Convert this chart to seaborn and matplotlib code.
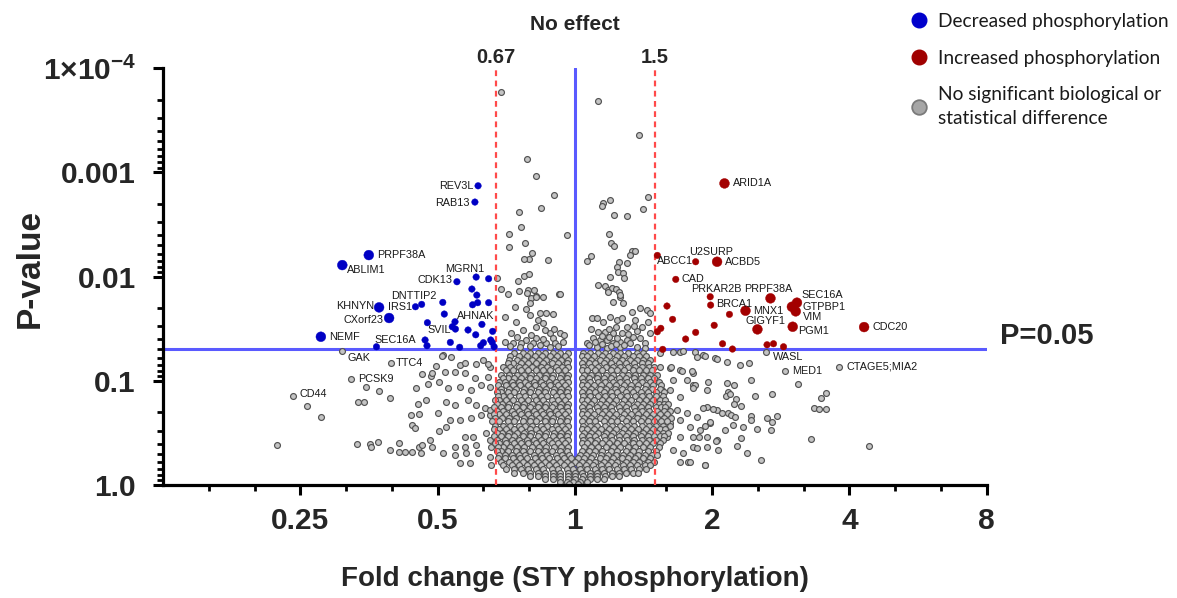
import numpy as np
import pandas as pd
import matplotlib
matplotlib.use("Agg")
import matplotlib.pyplot as plt
import seaborn as sns
from matplotlib.lines import Line2D
from matplotlib.ticker import LogLocator, NullFormatter

# ---------------- data (log2 fold change, -log10 P) ----------------
dec_names = ["REV3L", "RAB13", "PRPF38A", "ABLIM1", "MGRN1", "", "CDK13", "", "", "", "", "",
             "DNTTIP2", "", "IRS1", "KHNYN", "CXorf23", "", "", "AHNAK", "", "SVIL", "", "", "",
             "", "", "", "", "", "", "", "", "SEC16A", "", "", "NEMF"]
dec_l2 = [-0.705, -0.728, -1.501, -1.694, -0.719, -0.628, -0.859, -0.750, -0.714, -0.745, -0.708, -0.628,
          -0.962, -1.116, -1.161, -1.426, -1.353, -0.951, -1.074, -0.873, -0.893, -0.870, -0.677, -0.778,
          -0.722, -0.599, -0.613, -0.602, -0.588, -0.666, -0.686, -0.839, -0.907, -1.445, -1.091, -1.077,
          -1.850]
dec_nlp = [2.872, 2.716, 2.207, 2.111, 1.996, 1.980, 1.951, 1.881, 1.823, 1.730, 1.750, 1.750,
           1.753, 1.734, 1.711, 1.705, 1.603, 1.641, 1.558, 1.567, 1.519, 1.497, 1.542, 1.488,
           1.442, 1.475, 1.392, 1.369, 1.327, 1.366, 1.337, 1.322, 1.369, 1.327, 1.392, 1.337,
           1.423]
dec_big = ["PRPF38A", "ABLIM1", "KHNYN", "CXorf23", "NEMF"]

inc_names = ["ARID1A", "ABCC1", "U2SURP", "ACBD5", "CAD", "PRKAR2B", "BRCA1", "PRPF38A", "SEC16A",
             "GTPBP1", "VIM", "MNX1", "", "GIGYF1", "PGM1", "CDC20", "", "", "", "", "", "", "",
             "", "", "", "", "", ""]
inc_l2 = [1.090, 0.601, 0.880, 1.036, 0.735, 0.986, 0.989, 1.425, 1.618,
          1.581, 1.609, 1.243, 1.126, 1.330, 1.587, 2.107, 0.671, 0.712, 1.015, 0.880, 0.807, 0.626, 0.601,
          1.076, 1.148, 1.400, 1.447, 1.520, 0.640]
inc_nlp = [2.895, 2.204, 2.143, 2.143, 1.974, 1.807, 1.727, 1.792, 1.750,
           1.711, 1.667, 1.673, 1.638, 1.494, 1.519, 1.516, 1.718, 1.590, 1.533, 1.465, 1.401, 1.504, 1.471,
           1.356, 1.305, 1.346, 1.356, 1.327, 1.302]
inc_big = ["ARID1A", "ACBD5", "PRPF38A", "SEC16A", "GTPBP1", "VIM", "MNX1", "GIGYF1", "PGM1", "CDC20"]

grey_lab_names = ["GAK", "TTC4", "PCSK9", "CD44", "WASL", "MED1", "CTAGE5;MIA2"]
grey_lab_l2 = [-1.694, -1.339, -1.627, -2.055, 1.394, 1.528, 1.922]
grey_lab_nlp = [1.286, 1.168, 1.017, 0.857, 1.276, 1.094, 1.135]

# non-significant points between the thresholds, above the P = 0.05 line
band_l2 = [-0.535, 0.170, 0.469, -0.348, -0.285, -0.151, -0.243, -0.409, -0.389, -0.482, -0.056, -0.360,
           -0.480, -0.309, -0.333, -0.372, -0.199, -0.567, -0.411, -0.370, -0.336, -0.540, -0.487, -0.404,
           -0.338, -0.297, -0.323, -0.285, -0.115,
           0.530, 0.496, 0.377, 0.282, 0.258, 0.207, 0.195, 0.250, 0.265, 0.282, 0.416, 0.438, 0.404, 0.382,
           0.323, 0.304, 0.311, 0.350, 0.360, 0.258, 0.114, 0.088, 0.168, 0.217, 0.243, 0.270, 0.297, 0.319,
           0.328,
           -0.348, -0.280, -0.231, -0.109, -0.328, -0.358, -0.438, -0.511, -0.431, -0.328, -0.255, -0.207,
           -0.158, -0.268, -0.231, -0.280, -0.182, -0.109, -0.080, -0.158, -0.280, -0.353, -0.389, -0.450,
           -0.511, -0.304, -0.255, -0.207, -0.146, -0.085, -0.377, -0.462,
           0.243, 0.280, 0.328, 0.348, 0.122, 0.158, 0.207, 0.255, 0.304, 0.341, 0.414, 0.438, 0.474, 0.523,
           0.547, 0.535, 0.377, 0.341, 0.280, 0.219, 0.170, 0.134, 0.182, 0.231, 0.280, 0.328, 0.377, 0.426,
           0.474, 0.511, 0.547, 0.158, 0.231, 0.328, 0.450, 0.511, 0.085,
           0.10, 0.20, 0.26, 0.30, 0.36, 0.40, 0.15, 0.25, 0.31, 0.20, 0.39, 0.45, 0.12, 0.25, 0.30, 0.43,
           0.49, -0.12, -0.18, -0.33, -0.40, -0.47, -0.23, -0.32, -0.42, -0.15, -0.22]
band_nlp = [3.769, 3.688, 3.356, 3.132, 2.965, 2.783, 2.655, 2.623, 2.473, 2.409, 2.399, 2.322,
            2.284, 2.224, 2.166, 2.172, 2.156, 1.984, 1.958, 2.006, 2.028, 1.884, 1.833, 1.862,
            1.869, 1.871, 1.795, 1.814, 1.836,
            2.764, 2.652, 2.585, 2.588, 2.738, 2.709, 2.680, 2.409, 2.320, 2.297, 2.249, 2.249, 2.207, 2.131,
            2.137, 2.092, 2.047, 2.031, 1.987, 1.993, 2.198, 2.153, 1.922, 1.907, 1.871, 1.891, 1.878, 1.849,
            1.807,
            1.846, 1.807, 1.807, 1.833, 1.744, 1.686, 1.705, 1.609, 1.561, 1.631, 1.648, 1.648,
            1.641, 1.583, 1.552, 1.519, 1.456, 1.456, 1.440, 1.408, 1.408, 1.392, 1.360, 1.360,
            1.375, 1.360, 1.344, 1.360, 1.360, 1.375, 1.488, 1.456,
            1.855, 1.759, 1.823, 1.744, 1.600, 1.600, 1.567, 1.615, 1.583, 1.600, 1.663, 1.583, 1.696, 1.679,
            1.648, 1.567, 1.519, 1.456, 1.456, 1.471, 1.471, 1.408, 1.392, 1.392, 1.360, 1.375, 1.392, 1.423,
            1.408, 1.360, 1.456, 1.327, 1.312, 1.321, 1.327, 1.312, 1.360,
            1.34, 1.35, 1.33, 1.35, 1.34, 1.36, 1.37, 1.42, 1.41, 1.43, 1.45, 1.48, 1.50, 1.50, 1.52, 1.53,
            1.52, 1.33, 1.32, 1.33, 1.32, 1.33, 1.40, 1.44, 1.42, 1.50, 1.49]

# non-significant points outside the fold-change thresholds
side_l2 = [-0.961, -0.900, -0.839, -0.949, -0.876, -0.803, -0.669, -0.620, -0.730, -0.633, -0.925, -0.839,
           -0.754, -0.681, -0.620, -0.937, -0.876, -0.779, -0.718, -0.657, -0.620, -0.912, -0.839, -0.754,
           -0.681, -0.620, -0.937, -0.803, -0.742, -0.645, -0.620, -0.876, -0.803, -0.718, -0.608, -0.961,
           -0.876, -0.791, -0.706, -0.620, -0.839, -0.766, -0.608,
           0.620, 0.718, 0.766, 0.876, 0.888, 0.937, 1.022, 0.620, 0.693, 0.766, 0.864, 0.718, 0.815, 0.633,
           0.693, 0.766, 0.864, 0.961, 0.669, 0.742, 0.815, 0.888, 0.961, 1.034, 0.693, 0.766, 0.839, 0.912,
           0.985, 0.669, 0.766, 0.864, 0.961, 1.034, 0.718, 0.791, 0.864, 0.961, 0.766, 0.827, 0.949,
           -1.948, -1.850, -2.166, -1.521, -1.580, -1.538, -1.426, -1.345, -1.585, -1.493, -1.488, -1.437,
           -1.348, -1.278, -1.278, -1.236, -1.188, -1.124, -1.138, -1.110, -1.055, -1.040, -1.116, -1.046,
           -1.158, -1.144, -1.194, -1.138, -1.185, -1.166, -1.069, -1.082, -0.990, -0.998, -0.990,
           -0.971, -1.012, -1.040, -0.720, -0.636, -0.803,
           1.107, 1.162, 1.280, 1.628, 1.112, 1.098, 1.131, 1.176, 1.159, 1.209, 1.313, 1.439, 1.796, 1.833,
           1.740, 1.777, 1.830, 1.070, 1.112, 1.134, 1.168, 1.280, 1.280, 1.397, 1.434, 1.475, 1.154, 1.223,
           1.093, 1.330, 1.428, 1.209, 1.182, 1.252, 1.358, 1.721, 2.145,
           0.874, 0.863, 0.972, 0.931, 1.009, 0.986, 0.945, 0.902, 1.026, 1.042, 0.888, 0.950, 0.838,
           0.945, 1.034, 1.107, 1.204, 1.266, 0.855, 0.777, 0.701, 0.785]
side_nlp = [1.248, 1.231, 1.152, 1.088, 1.088, 1.072, 1.200, 1.136, 1.024, 1.040, 0.928, 0.944,
            0.912, 0.960, 0.944, 0.800, 0.768, 0.816, 0.768, 0.736, 0.672, 0.624, 0.624, 0.640,
            0.672, 0.720, 0.560, 0.464, 0.464, 0.496, 0.432, 0.368, 0.368, 0.384, 0.368, 0.304,
            0.288, 0.304, 0.304, 0.272, 0.208, 0.208, 0.192,
            1.264, 1.280, 1.280, 1.280, 1.231, 1.248, 1.216, 1.136, 1.120, 1.104, 1.072, 1.008, 1.008, 0.912,
            0.912, 0.848, 0.960, 0.912, 0.768, 0.720, 0.688, 0.656, 0.752, 0.720, 0.592, 0.624, 0.560, 0.528,
            0.592, 0.464, 0.464, 0.464, 0.464, 0.432, 0.336, 0.304, 0.368, 0.368, 0.224, 0.224, 0.192,
            0.758, 0.653, 0.381, 0.944, 0.800, 0.800, 0.902, 0.838, 0.393, 0.393, 0.362, 0.416,
            0.336, 0.400, 0.320, 0.320, 0.320, 0.310, 0.368, 0.384, 0.432, 0.368, 1.065, 1.046,
            0.928, 0.777, 0.672, 0.678, 0.576, 0.544, 0.969, 0.816, 0.521, 0.694, 0.992,
            1.242, 1.145, 1.078, 1.158, 1.158, 1.168,
            0.976, 0.960, 1.008, 0.966, 0.889, 0.854, 0.873, 0.822, 0.774, 0.761, 0.854, 0.870, 0.838, 0.880,
            0.736, 0.726, 0.729, 0.694, 0.694, 0.672, 0.650, 0.665, 0.624, 0.640, 0.608, 0.665, 0.576, 0.554,
            0.528, 0.534, 0.525, 0.448, 0.377, 0.310, 0.240, 0.441, 0.371,
            0.960, 0.928, 0.985, 0.736, 0.726, 0.602, 0.566, 0.464, 0.422, 0.336, 0.358, 0.192, 0.224,
            1.242, 1.210, 1.181, 1.148, 1.168, 1.097, 1.097, 1.129, 1.286]

# dense core of non-significant points, read row by row (-log10 P of the row, log2 FC of its points)
core_nlp = [1.27, 1.24, 1.20, 1.17, 1.13, 1.10, 1.06, 1.03, 0.99, 0.96, 0.92, 0.89, 0.85, 0.82,
            0.78, 0.75, 0.71, 0.68, 0.64, 0.61, 0.57, 0.54, 0.50, 0.47, 0.43, 0.40, 0.36, 0.33,
            0.29, 0.26, 0.22, 0.19, 0.15, 0.12, 0.09, 0.06, 0.03, 0.01]
core_l2 = [
    [-0.05, -0.11, -0.16, -0.22, -0.27, -0.33, -0.38, -0.44, 0.06, 0.11, 0.17, 0.22, 0.28, 0.33, 0.39, 0.45, 0.50],
    [-0.07, -0.13, -0.18, -0.24, -0.29, -0.35, -0.41, -0.47, 0.05, 0.09, 0.14, 0.20, 0.25, 0.31, 0.36, 0.42,
     0.47, 0.52],
    [-0.05, -0.10, -0.15, -0.21, -0.26, -0.31, -0.37, -0.42, -0.48, 0.07, 0.12, 0.18, 0.23, 0.29, 0.34, 0.40,
     0.45, 0.50, 0.55],
    [-0.06, -0.12, -0.17, -0.23, -0.28, -0.34, -0.39, -0.45, -0.49, 0.05, 0.10, 0.15, 0.21, 0.26, 0.32, 0.37,
     0.43, 0.49, 0.53],
    [-0.05, -0.09, -0.14, -0.20, -0.25, -0.31, -0.36, -0.41, -0.47, -0.52, 0.06, 0.12, 0.17, 0.23, 0.28, 0.33,
     0.39, 0.44, 0.49, 0.54, 0.58],
    [-0.07, -0.12, -0.18, -0.23, -0.28, -0.34, -0.39, -0.45, -0.50, 0.05, 0.09, 0.15, 0.20, 0.26, 0.31, 0.36,
     0.42, 0.47, 0.52, 0.56],
    [-0.05, -0.10, -0.16, -0.21, -0.26, -0.32, -0.37, -0.42, -0.48, -0.54, 0.07, 0.12, 0.17, 0.23, 0.28, 0.34,
     0.39, 0.44, 0.50, 0.55, 0.60],
    [-0.06, -0.11, -0.17, -0.22, -0.28, -0.33, -0.39, -0.44, -0.49, -0.52, 0.05, 0.10, 0.16, 0.21, 0.26, 0.32,
     0.37, 0.43, 0.48, 0.53, 0.58],
    [-0.05, -0.09, -0.14, -0.19, -0.25, -0.30, -0.36, -0.41, -0.46, -0.51, -0.55, 0.06, 0.11, 0.17, 0.22, 0.28,
     0.33, 0.38, 0.44, 0.49, 0.55, 0.61],
    [-0.07, -0.12, -0.18, -0.23, -0.29, -0.34, -0.40, -0.45, -0.50, -0.56, 0.05, 0.09, 0.14, 0.19, 0.25, 0.30,
     0.36, 0.41, 0.46, 0.52, 0.57, 0.63],
    [-0.05, -0.10, -0.15, -0.21, -0.26, -0.32, -0.37, -0.43, -0.48, -0.54, 0.07, 0.12, 0.18, 0.23, 0.29, 0.34,
     0.40, 0.45, 0.51, 0.56, 0.62],
    [-0.06, -0.11, -0.16, -0.22, -0.27, -0.33, -0.38, -0.44, -0.49, -0.54, -0.57, 0.05, 0.10, 0.15, 0.21, 0.26,
     0.31, 0.37, 0.42, 0.48, 0.53, 0.59, 0.65],
    [-0.05, -0.09, -0.14, -0.20, -0.25, -0.30, -0.36, -0.41, -0.47, -0.52, -0.56, 0.06, 0.11, 0.17, 0.22, 0.27,
     0.33, 0.38, 0.44, 0.49, 0.54, 0.59, 0.64],
    [-0.07, -0.12, -0.17, -0.23, -0.28, -0.34, -0.39, -0.45, -0.50, -0.55, -0.58, 0.05, 0.09, 0.14, 0.20, 0.25,
     0.30, 0.36, 0.41, 0.47, 0.52, 0.57, 0.62, 0.66],
    [-0.05, -0.10, -0.15, -0.21, -0.26, -0.31, -0.37, -0.42, -0.48, -0.53, -0.57, 0.07, 0.12, 0.18, 0.23, 0.28,
     0.34, 0.39, 0.45, 0.50, 0.55, 0.61, 0.65, 0.68],
    [-0.06, -0.11, -0.17, -0.22, -0.27, -0.33, -0.38, -0.43, -0.49, -0.54, -0.59, 0.05, 0.10, 0.16, 0.21, 0.26,
     0.32, 0.37, 0.43, 0.48, 0.53, 0.59, 0.63, 0.66],
    [-0.05, -0.09, -0.14, -0.19, -0.25, -0.30, -0.35, -0.41, -0.46, -0.52, -0.57, 0.06, 0.11, 0.17, 0.22, 0.27,
     0.33, 0.38, 0.44, 0.49, 0.54, 0.60, 0.65, 0.69],
    [-0.07, -0.12, -0.18, -0.23, -0.28, -0.34, -0.39, -0.44, -0.50, -0.55, -0.59, 0.05, 0.09, 0.14, 0.20, 0.25,
     0.30, 0.36, 0.41, 0.46, 0.52, 0.57, 0.62, 0.67],
    [-0.05, -0.10, -0.16, -0.21, -0.26, -0.32, -0.37, -0.43, -0.48, -0.53, -0.58, 0.07, 0.12, 0.18, 0.23, 0.28,
     0.34, 0.39, 0.45, 0.50, 0.55, 0.60, 0.65, 0.70],
    [-0.06, -0.11, -0.17, -0.22, -0.28, -0.33, -0.38, -0.44, -0.49, -0.55, -0.60, 0.05, 0.10, 0.15, 0.21, 0.26,
     0.31, 0.37, 0.42, 0.48, 0.53, 0.58, 0.63, 0.67],
    [-0.05, -0.09, -0.14, -0.20, -0.25, -0.31, -0.36, -0.41, -0.47, -0.52, -0.58, 0.06, 0.11, 0.16, 0.22, 0.27,
     0.33, 0.38, 0.43, 0.49, 0.54, 0.59, 0.64, 0.69],
    [-0.07, -0.12, -0.17, -0.23, -0.28, -0.33, -0.39, -0.44, -0.50, -0.55, -0.59, 0.05, 0.09, 0.14, 0.19, 0.25,
     0.30, 0.36, 0.41, 0.46, 0.52, 0.57, 0.62, 0.66],
    [-0.05, -0.10, -0.15, -0.21, -0.26, -0.32, -0.37, -0.42, -0.48, -0.53, -0.57, 0.07, 0.12, 0.17, 0.23, 0.28,
     0.34, 0.39, 0.44, 0.50, 0.55, 0.60, 0.64, 0.68],
    [-0.06, -0.11, -0.16, -0.22, -0.27, -0.33, -0.38, -0.44, -0.49, -0.54, -0.59, 0.05, 0.10, 0.15, 0.21, 0.26,
     0.32, 0.37, 0.42, 0.48, 0.53, 0.58, 0.62, 0.65],
    [-0.05, -0.09, -0.14, -0.19, -0.25, -0.30, -0.35, -0.41, -0.46, -0.51, -0.57, 0.06, 0.11, 0.16, 0.22, 0.27,
     0.32, 0.38, 0.43, 0.49, 0.54, 0.59, 0.64],
    [-0.07, -0.12, -0.17, -0.23, -0.28, -0.34, -0.39, -0.44, -0.50, -0.55, -0.58, 0.05, 0.09, 0.15, 0.20, 0.25,
     0.31, 0.36, 0.42, 0.47, 0.52, 0.57, 0.62],
    [-0.05, -0.10, -0.15, -0.21, -0.26, -0.31, -0.37, -0.42, -0.47, -0.52, -0.56, 0.07, 0.12, 0.17, 0.23, 0.28,
     0.33, 0.39, 0.44, 0.50, 0.55, 0.61],
    [-0.06, -0.11, -0.17, -0.22, -0.27, -0.33, -0.38, -0.43, -0.49, -0.54, -0.57, 0.05, 0.10, 0.15, 0.20, 0.26,
     0.31, 0.37, 0.42, 0.47, 0.53, 0.59],
    [-0.04, -0.09, -0.14, -0.20, -0.25, -0.30, -0.36, -0.41, -0.46, -0.51, -0.55, 0.04, 0.08, 0.13, 0.19, 0.24,
     0.30, 0.35, 0.40, 0.46, 0.51, 0.56, 0.60],
    [-0.56, -0.51, -0.45, -0.40, -0.35, -0.29, -0.24, -0.19, -0.13, -0.08, -0.03, 0.02, 0.07, 0.12, 0.18, 0.23,
     0.28, 0.34, 0.39, 0.44, 0.50, 0.55],
    [-0.54, -0.48, -0.43, -0.38, -0.32, -0.27, -0.22, -0.16, -0.11, -0.06, 0.00, 0.05, 0.10, 0.15, 0.21, 0.26,
     0.31, 0.37, 0.42, 0.47, 0.53, 0.58],
    [-0.52, -0.46, -0.41, -0.35, -0.30, -0.25, -0.19, -0.14, -0.08, -0.03, 0.03, 0.08, 0.13, 0.19, 0.24, 0.29,
     0.35, 0.40, 0.45, 0.51, 0.55],
    [-0.50, -0.44, -0.39, -0.34, -0.28, -0.23, -0.17, -0.12, -0.06, -0.01, 0.04, 0.09, 0.15, 0.20, 0.25, 0.31,
     0.36, 0.41, 0.47, 0.52],
    [-0.44, -0.38, -0.33, -0.27, -0.22, -0.16, -0.11, -0.05, 0.00, 0.05, 0.11, 0.16, 0.21, 0.27, 0.32, 0.37,
     0.42, 0.46],
    [-0.33, -0.27, -0.22, -0.16, -0.11, -0.05, 0.00, 0.06, 0.11, 0.16, 0.22, 0.27, 0.32],
    [-0.22, -0.16, -0.11, -0.05, 0.00, 0.05, 0.11, 0.16, 0.21],
    [-0.11, -0.06, -0.01, 0.04, 0.09],
    [-0.04, 0.02],
]

# ---------------- label placement (pixels, relative to each point) ----------------
label_pos = {
    ("dec", "REV3L"): (-5, 0, "right"), ("dec", "RAB13"): (-5, -1, "right"),
    ("dec", "PRPF38A"): (8, 0, "left"), ("dec", "ABLIM1"): (5, -5, "left"),
    ("dec", "MGRN1"): (8, 8, "right"), ("dec", "CDK13"): (-4, 2, "right"),
    ("dec", "DNTTIP2"): (-6, 6, "right"), ("dec", "IRS1"): (-3, 0, "right"),
    ("dec", "KHNYN"): (-5, 1, "right"), ("dec", "CXorf23"): (-6, -2, "right"),
    ("dec", "AHNAK"): (2, 6, "left"), ("dec", "SVIL"): (-4, -1, "right"),
    ("dec", "SEC16A"): (-2, 7, "left"), ("dec", "NEMF"): (8, 0, "left"),
    ("grey", "GAK"): (5, -7, "left"), ("grey", "TTC4"): (5, 0, "left"),
    ("grey", "PCSK9"): (7, 0, "left"), ("grey", "CD44"): (7, 2, "left"),
    ("grey", "WASL"): (7, -5, "left"), ("grey", "MED1"): (8, 0, "left"),
    ("grey", "CTAGE5;MIA2"): (8, 0, "left"),
    ("inc", "ARID1A"): (8, 0, "left"), ("inc", "ABCC1"): (0, -6, "left"),
    ("inc", "U2SURP"): (-7, 10, "left"), ("inc", "ACBD5"): (8, 0, "left"),
    ("inc", "CAD"): (6, 0, "left"), ("inc", "PRKAR2B"): (-19, 8, "left"),
    ("inc", "PRPF38A"): (-26, 9, "left"), ("inc", "BRCA1"): (5, 1, "left"),
    ("inc", "SEC16A"): (4, 8, "left"), ("inc", "GTPBP1"): (11, 0, "left"),
    ("inc", "VIM"): (7, -6, "left"), ("inc", "MNX1"): (8, 0, "left"),
    ("inc", "GIGYF1"): (-12, 8, "left"), ("inc", "PGM1"): (5, -4, "left"),
    ("inc", "CDC20"): (8, 0, "left"),
}

# ---------------- build tables ----------------
core_x, core_y = [], []
for lvl, row in zip(core_nlp, core_l2):
    core_x += row
    core_y += [lvl] * len(row)
grey_l2_all = band_l2 + side_l2 + core_x + grey_lab_l2
grey_nlp_all = band_nlp + side_nlp + core_y + grey_lab_nlp
grey = pd.DataFrame({"fc": 2.0 ** np.array(grey_l2_all), "p": 10.0 ** (-np.array(grey_nlp_all))})
dec = pd.DataFrame({"name": dec_names, "fc": 2.0 ** np.array(dec_l2), "p": 10.0 ** (-np.array(dec_nlp))})
dec["kind"] = np.where(dec["name"].isin(dec_big), "big", "small")
inc = pd.DataFrame({"name": inc_names, "fc": 2.0 ** np.array(inc_l2), "p": 10.0 ** (-np.array(inc_nlp))})
inc["kind"] = np.where(inc["name"].isin(inc_big), "big", "small")
glab = pd.DataFrame({"name": grey_lab_names, "fc": 2.0 ** np.array(grey_lab_l2),
                     "p": 10.0 ** (-np.array(grey_lab_nlp))})

# ---------------- style ----------------
sns.set_theme(style="ticks")
plt.rcParams["font.family"] = ["Liberation Sans", "DejaVu Sans"]
plt.rcParams["mathtext.fontset"] = "custom"
plt.rcParams["mathtext.rm"] = "Liberation Sans:bold"
plt.rcParams["mathtext.bf"] = "Liberation Sans:bold"
plt.rcParams["mathtext.default"] = "rm"

fig = plt.figure(figsize=(11.77, 5.98), dpi=100)
ax = fig.add_axes([0.13849, 0.18896, 0.69983, 0.69683])

BLUE_LINE = "#5A5AFF"
RED_LINE = "#FF4A4A"
ax.axvline(1.0, color=BLUE_LINE, lw=2.2, zorder=1)
ax.axhline(0.05, color=BLUE_LINE, lw=2.2, zorder=1)

sns.scatterplot(data=grey, x="fc", y="p", s=18, color="#C4C4C4", edgecolor="#525252",
                linewidth=0.85, zorder=2, ax=ax, legend=False)
for thr in (0.67, 1.5):
    ax.axvline(thr, color=RED_LINE, lw=1.6, ls=(0, (2.6, 2.0)), zorder=3)
sns.scatterplot(data=dec, x="fc", y="p", size="kind", sizes={"big": 50, "small": 22},
                color="#0000C4", edgecolor="#0000C4", linewidth=0.3, zorder=4, ax=ax, legend=False)
sns.scatterplot(data=inc, x="fc", y="p", size="kind", sizes={"big": 50, "small": 22},
                color="#A30000", edgecolor="#A30000", linewidth=0.3, zorder=4, ax=ax, legend=False)

# scales, limits, ticks
ax.set_xscale("log", base=2)
ax.set_yscale("log", base=10)
ax.set_xlim(0.125, 8)
ax.set_ylim(1.0, 1e-4)
ax.set_xticks([0.25, 0.5, 1, 2, 4, 8], labels=["0.25", "0.5", "1", "2", "4", "8"],
              fontsize=21.5, fontweight="bold")
ax.set_xticks([2.0 ** (k / 3) for k in range(-8, 9) if k % 3], minor=True)
ax.xaxis.set_minor_formatter(NullFormatter())
ax.set_yticks([1e-4, 1e-3, 1e-2, 1e-1, 1.0],
              labels=["1\u00d710$^{-4}$", "0.001", "0.01", "0.1", "1.0"],
              fontsize=21.5, fontweight="bold")
ax.yaxis.set_minor_locator(LogLocator(base=10, subs=np.arange(2, 10)))
ax.yaxis.set_minor_formatter(NullFormatter())
ax.tick_params(axis="both", which="major", length=7.5, width=2.2, color="black")
ax.tick_params(axis="both", which="minor", length=4, width=2.0, color="black")
ax.tick_params(axis="x", which="major", pad=8)
ax.tick_params(axis="y", which="major", pad=12)
sns.despine(ax=ax)
for side in ("left", "bottom"):
    ax.spines[side].set_linewidth(2.3)
    ax.spines[side].set_color("black")

ax.set_xlabel("Fold change (STY phosphorylation)", fontsize=20, fontweight="bold")
ax.xaxis.set_label_coords(0.5, -0.195)
ax.set_ylabel("P-value", fontsize=24, fontweight="bold")
ax.yaxis.set_label_coords(-0.1426, 0.52)

# reference annotations
xt = ax.get_xaxis_transform()
ax.text(1.0, 1.104, "No effect", transform=xt, ha="center", va="center", fontsize=15, fontweight="bold")
ax.text(0.67, 1.027, "0.67", transform=xt, ha="center", va="center", fontsize=14.5, fontweight="bold")
ax.text(1.5, 1.027, "1.5", transform=xt, ha="center", va="center", fontsize=14.5, fontweight="bold")
ax.annotate("P=0.05", xy=(8, 0.05), xytext=(13, 13), textcoords="offset pixels", ha="left",
            va="center", fontsize=21, fontweight="bold", annotation_clip=False)

# gene labels
for grp, df in (("dec", dec), ("inc", inc), ("grey", glab)):
    for _, r in df.iterrows():
        if not r["name"]:
            continue
        dx, dy, ha = label_pos[(grp, r["name"])]
        ax.annotate(r["name"], xy=(r["fc"], r["p"]), xytext=(dx, dy), textcoords="offset pixels",
                    ha=ha, va="center", fontsize=7.8, color="#1a1a1a", zorder=5)

# legend
handles = [
    Line2D([], [], ls="", marker="o", markersize=10.5, markerfacecolor="#0000CC", markeredgecolor="#0000CC"),
    Line2D([], [], ls="", marker="o", markersize=10.5, markerfacecolor="#A00000", markeredgecolor="#A00000"),
    Line2D([], [], ls="", marker="o", markersize=10.5, markerfacecolor="#A6A6A6", markeredgecolor="#7A7A7A",
           markeredgewidth=1.3),
]
labels = ["Decreased phosphorylation", "Increased phosphorylation",
          "No significant biological or\nstatistical difference"]
leg = fig.legend(handles, labels, loc="upper left", bbox_to_anchor=(0.7747, 0.9783), frameon=False,
                 prop={"family": ["Lato", "DejaVu Sans"], "size": 13.8}, handlelength=0.8,
                 handletextpad=0.55, labelspacing=1.03, borderpad=0, borderaxespad=0)
for t in leg.get_texts():
    t.set_linespacing(1.45)
    t.set_color("#1a1a1a")

fig.savefig("out.png", dpi=100)
